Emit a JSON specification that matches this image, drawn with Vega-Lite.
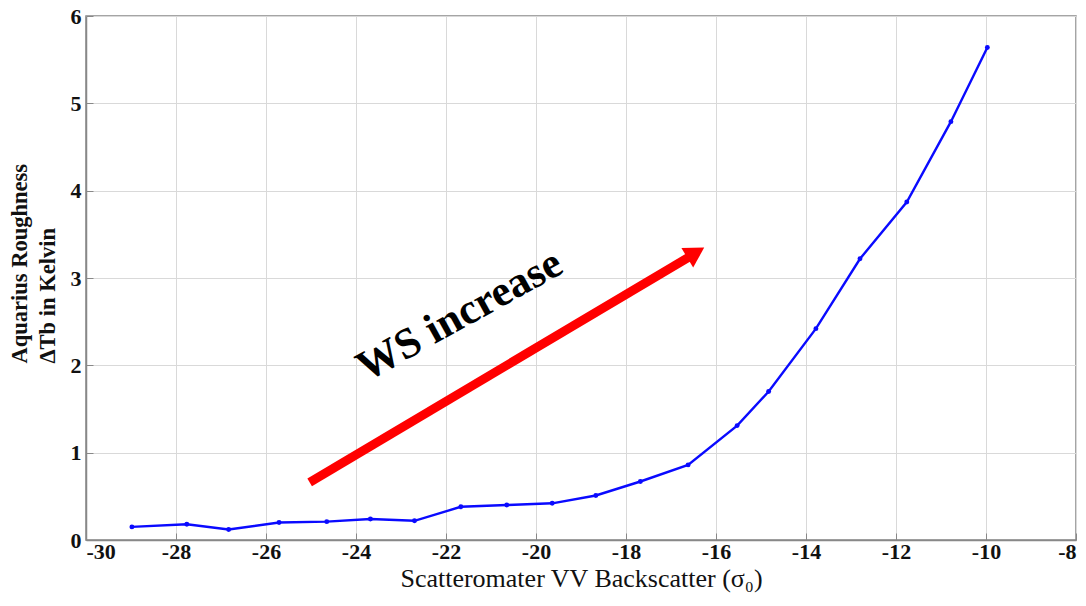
{
  "$schema": "https://vega.github.io/schema/vega-lite/v6.json",
  "width": 990,
  "height": 524,
  "autosize": {"type": "none"},
  "padding": {"left": 86, "top": 16, "right": 10, "bottom": 66},
  "background": "white",
  "config": {
    "view": {"stroke": "#888888", "strokeWidth": 1.5},
    "font": "Liberation Serif",
    "axis": {
      "gridColor": "#d9d9d9",
      "gridWidth": 1,
      "domainColor": "#888888",
      "domainWidth": 1.5,
      "tickColor": "#888888",
      "labelFont": "Liberation Serif",
      "labelFontWeight": "bold",
      "labelFontSize": 22,
      "labelColor": "#111111",
      "titleFont": "Liberation Serif",
      "titleColor": "#111111"
    }
  },
  "datasets": {
    "curve": [
      {"sigma0": -28.98, "dtb": 0.15},
      {"sigma0": -27.76, "dtb": 0.18},
      {"sigma0": -26.83, "dtb": 0.12},
      {"sigma0": -25.71, "dtb": 0.20},
      {"sigma0": -24.65, "dtb": 0.21},
      {"sigma0": -23.68, "dtb": 0.24},
      {"sigma0": -22.70, "dtb": 0.22},
      {"sigma0": -21.67, "dtb": 0.38},
      {"sigma0": -20.65, "dtb": 0.40},
      {"sigma0": -19.64, "dtb": 0.42},
      {"sigma0": -18.67, "dtb": 0.51},
      {"sigma0": -17.68, "dtb": 0.67},
      {"sigma0": -16.62, "dtb": 0.86},
      {"sigma0": -15.53, "dtb": 1.31},
      {"sigma0": -14.83, "dtb": 1.70},
      {"sigma0": -13.78, "dtb": 2.42},
      {"sigma0": -12.80, "dtb": 3.22},
      {"sigma0": -11.76, "dtb": 3.87},
      {"sigma0": -10.78, "dtb": 4.79},
      {"sigma0": -9.97, "dtb": 5.64}
    ],
    "arrow": [
      {"x0": -25.03, "y0": 0.66, "x1": -16.5, "y1": 3.27, "hx": -16.45, "hy": 3.29, "label": "WS increase", "tx": -21.7, "ty": 2.57}
    ]
  },
  "layer": [
    {
      "data": {"name": "curve"},
      "mark": {"type": "line", "color": "#0a0aff", "strokeWidth": 2.4, "point": {"filled": true, "size": 24, "color": "#0a0aff"}},
      "encoding": {
        "x": {
          "field": "sigma0", "type": "quantitative",
          "scale": {"domain": [-30, -8], "nice": false},
          "axis": {
            "values": [-30, -28, -26, -24, -22, -20, -18, -16, -14, -12, -10, -8],
            "labelExpr": "toString(datum.value)",
            "title": "Scatteromater VV Backscatter (σ₀)",
            "titleFontSize": 26, "titleFontWeight": "normal", "titlePadding": 3,
            "tickSize": -7, "labelPadding": 8, "grid": true
          }
        },
        "y": {
          "field": "dtb", "type": "quantitative",
          "scale": {"domain": [0, 6], "nice": false},
          "axis": {
            "values": [0, 1, 2, 3, 4, 5, 6],
            "labelExpr": "toString(datum.value)",
            "title": ["Aquarius Roughness", "ΔTb in Kelvin"],
            "titleFontSize": 22.5, "titleFontWeight": "bold", "titlePadding": 11,
            "titleLineHeight": 28, "titleAlign": "left", "titleY": 347,
            "tickSize": -7, "labelPadding": 12, "grid": true
          }
        }
      }
    },
    {
      "data": {"name": "arrow"},
      "mark": {"type": "rule", "color": "#ff0000", "strokeWidth": 9, "strokeCap": "butt"},
      "encoding": {
        "x": {"field": "x0", "type": "quantitative"},
        "y": {"field": "y0", "type": "quantitative"},
        "x2": {"field": "x1"},
        "y2": {"field": "y1"}
      }
    },
    {
      "data": {"name": "arrow"},
      "mark": {"type": "point", "shape": "triangle-right", "filled": true, "color": "#ff0000", "opacity": 1, "size": 520, "angle": 329},
      "encoding": {
        "x": {"field": "hx", "type": "quantitative"},
        "y": {"field": "hy", "type": "quantitative"}
      }
    },
    {
      "data": {"name": "arrow"},
      "mark": {"type": "text", "font": "Liberation Serif", "fontWeight": "bold", "fontSize": 43, "angle": 331, "color": "#000000", "align": "center", "baseline": "middle"},
      "encoding": {
        "x": {"field": "tx", "type": "quantitative"},
        "y": {"field": "ty", "type": "quantitative"},
        "text": {"field": "label"}
      }
    }
  ]
}
